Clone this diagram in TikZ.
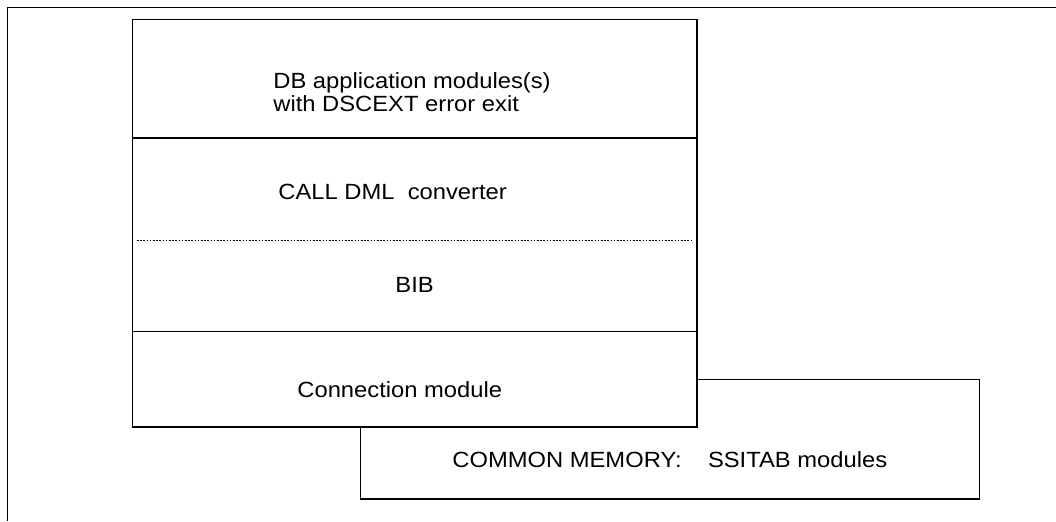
\documentclass[tikz,border=0pt]{standalone}
\usepackage{fontspec}
\setmainfont{Liberation Sans}[FakeStretch=1.08]
\begin{document}
\begin{tikzpicture}[x=0.5pt,y=-0.5pt,
  frame/.style={line width=0.7pt},
  sep/.style={line width=0.7pt},
  dotsep/.style={line width=0.5pt,dash pattern=on 0.8pt off 0.8pt},
  lbl/.style={anchor=base west,inner sep=0pt,font=\fontsize{11}{13.5}\selectfont}]
\useasboundingbox (0,0) rectangle (1056,521);
% outer frame (top and left only)
\draw[frame] (1056,7.5) -- (7.5,7.5) -- (7.5,521);
% common memory box (partly behind main box)
\coordinate (cmA) at (697,379.5);
\coordinate (cmB) at (979.5,379.5);
\coordinate (cmC) at (979.5,499);
\coordinate (cmD) at (360.5,499);
\coordinate (cmE) at (360.5,427);
\draw[frame] (cmA) -- (cmB) -- (cmC) -- (cmD) -- (cmE);
% main box
\draw[frame] (132.5,19.5) rectangle (697,427);
\draw[sep] (132.5,138) -- (697,138);
\draw[dotsep] (137,240.7) -- (692,240.7);
\draw[sep] (132.5,331.5) -- (697,331.5);
% labels
\node[lbl] (db1) at (273,88) {DB application modules(s)};
\node[lbl] (db2) at (273,111) {with DSCEXT error exit};
\node[lbl] (dml) at (278,199) {CALL DML\ \ converter};
\node[lbl] (bib) at (395,292) {BIB};
\node[lbl] (con) at (297,397) {Connection module};
\node[lbl] (cm) at (452,467) {COMMON MEMORY:\ \ \ \ SSITAB modules};
\end{tikzpicture}
\end{document}
